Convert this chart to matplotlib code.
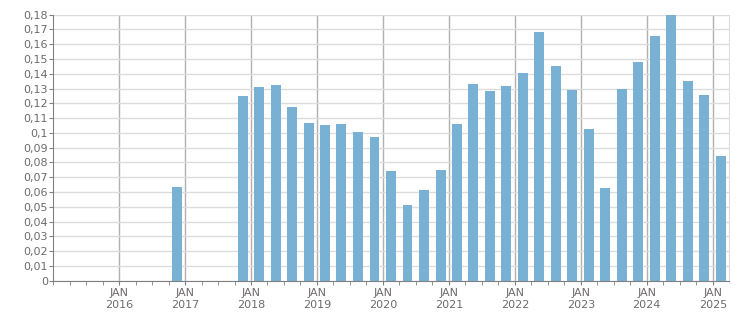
# quarterly bar chart, values per quarter (bars centred mid-quarter)
import datetime as dt
import matplotlib
matplotlib.use("Agg")
import matplotlib.pyplot as plt
import matplotlib.dates as mdates
from matplotlib.ticker import FixedLocator, FuncFormatter

# quarter start dates and values
quarters = ["2016-10", "2017-10",
            "2018-01", "2018-04", "2018-07", "2018-10",
            "2019-01", "2019-04", "2019-07", "2019-10",
            "2020-01", "2020-04", "2020-07", "2020-10",
            "2021-01", "2021-04", "2021-07", "2021-10",
            "2022-01", "2022-04", "2022-07", "2022-10",
            "2023-01", "2023-04", "2023-07", "2023-10",
            "2024-01", "2024-04", "2024-07", "2024-10",
            "2025-01"]
values = [0.0634, 0.125,
          0.1311, 0.1324, 0.1175, 0.1067,
          0.1053, 0.1060, 0.1006, 0.0972,
          0.0742, 0.0512, 0.0614, 0.0749,
          0.1060, 0.1331, 0.1284, 0.1317,
          0.1405, 0.1683, 0.1453, 0.1290,
          0.1026, 0.0627, 0.1297, 0.1480,
          0.1656, 0.1805, 0.1351, 0.1256,
          0.0844]
years = list(range(2016, 2026))
yticks = [i / 100 for i in range(0, 19)]

# bar centre = middle of the quarter
x = [dt.datetime.strptime(q, "%Y-%m") + dt.timedelta(days=45) for q in quarters]

fig = plt.figure(figsize=(7.51, 3.13), dpi=100)
ax = fig.add_axes([0.071, 0.1032, 0.8993, 0.8498])

ax.bar(x, values, width=55, color="#79b1d4", zorder=3)

ax.set_xlim(dt.datetime(2015, 1, 1), dt.datetime(2025, 3, 30))
ax.set_ylim(0, 0.18)

# y axis: every 0,01 with comma decimals
ax.yaxis.set_major_locator(FixedLocator(yticks))
ax.yaxis.set_major_formatter(FuncFormatter(lambda v, p: ("%g" % round(v, 2)).replace(".", ",")))
ax.grid(axis="y", color="#dcdcdc", linewidth=1, zorder=0)

# x axis: JAN of each year, minor ticks each quarter
jans = [dt.datetime(y, 1, 1) for y in years]
ax.set_xticks(jans)
ax.set_xticklabels(["JAN\n%d" % y for y in years])
ax.xaxis.set_minor_locator(mdates.MonthLocator(bymonth=[1, 4, 7, 10]))
for j in jans:
    ax.axvline(j, color="#b0b0b0", linewidth=1, zorder=1)

for s in ["top"]:
    ax.spines[s].set_visible(False)
ax.spines["right"].set_color("#dcdcdc")
ax.spines["left"].set_color("#808080")
ax.spines["bottom"].set_color("#808080")
ax.spines["bottom"].set_zorder(4)

ax.tick_params(axis="y", length=3, color="#808080", labelsize=8, labelcolor="#6e6a6a", pad=1)
ax.tick_params(axis="x", which="major", length=3, color="#808080", labelsize=8, labelcolor="#6e6a6a", pad=2)
ax.tick_params(axis="x", which="minor", length=3, color="#808080")
for lbl in ax.get_xticklabels():
    lbl.set_linespacing(1.25)

fig.savefig("out.png", dpi=100)
